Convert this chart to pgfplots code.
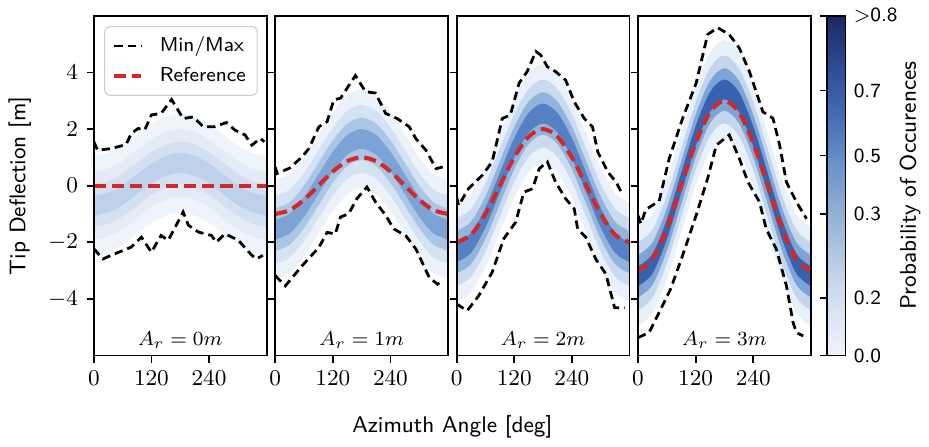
\documentclass[border=0pt]{standalone}
\usepackage{pgfplots}
\usepackage{pgfplotstable}
\pgfplotsset{compat=1.18}
\usepgfplotslibrary{groupplots,fillbetween}

\definecolor{refred}{RGB}{214,39,40}
% band colours (outer -> core), one set per panel
\definecolor{p1c1}{RGB}{239,244,251}\definecolor{p1c2}{RGB}{226,235,246}
\definecolor{p1c3}{RGB}{210,224,241}\definecolor{p1c4}{RGB}{190,209,234}
\definecolor{p2c1}{RGB}{236,242,250}\definecolor{p2c2}{RGB}{212,226,242}
\definecolor{p2c3}{RGB}{170,197,229}\definecolor{p2c4}{RGB}{125,163,213}
\definecolor{p3c1}{RGB}{234,241,250}\definecolor{p3c2}{RGB}{202,219,239}
\definecolor{p3c3}{RGB}{145,180,221}\definecolor{p3c4}{RGB}{85,128,196}
\definecolor{p4c1}{RGB}{232,240,250}\definecolor{p4c2}{RGB}{195,214,237}
\definecolor{p4c3}{RGB}{125,164,214}\definecolor{p4c4}{RGB}{55,98,175}

\pgfplotsset{
  colormap={occ}{rgb255(0)=(240,244,251) rgb255(0.2)=(205,217,237)
    rgb255(0.4)=(150,180,215) rgb255(0.55)=(110,150,200)
    rgb255(0.7)=(70,110,180) rgb255(0.85)=(45,75,150) rgb255(1)=(28,40,95)},
  mm/.style={black, line width=1.1pt, dash pattern=on 3.3pt off 2pt},
  rf/.style={refred, line width=1.6pt, dash pattern=on 4.8pt off 2.4pt},
}

% density bands: x, lower/upper edge for 4 nested bands
\pgfplotstableread{
x   a1    b1    a2    b2    a3    b3    a4    b4
0   -2.45 1.05  -1.90 0.50  -1.45 0.05  -1.05 -0.35
30  -2.35 1.15  -1.80 0.60  -1.35 0.15  -0.95 -0.25
60  -2.08 1.42  -1.53 0.87  -1.08 0.42  -0.68 0.02
90  -1.70 1.80  -1.15 1.25  -0.70 0.80  -0.30 0.40
120 -1.32 2.18  -0.77 1.63  -0.32 1.18  0.08  0.78
150 -1.05 2.45  -0.50 1.90  -0.05 1.45  0.35  1.05
180 -0.95 2.55  -0.40 2.00  0.05  1.55  0.45  1.15
210 -1.05 2.45  -0.50 1.90  -0.05 1.45  0.35  1.05
240 -1.32 2.18  -0.77 1.63  -0.32 1.18  0.08  0.78
270 -1.70 1.80  -1.15 1.25  -0.70 0.80  -0.30 0.40
300 -2.08 1.42  -1.53 0.87  -1.08 0.42  -0.68 0.02
330 -2.35 1.15  -1.80 0.60  -1.35 0.15  -0.95 -0.25
360 -2.45 1.05  -1.90 0.50  -1.45 0.05  -1.05 -0.35
}\bandA
\pgfplotstableread{
x   a1    b1    a2    b2    a3    b3    a4    b4
0   -3.30 0.20  -2.75 -0.35 -2.30 -0.80 -1.90 -1.20
30  -3.09 0.41  -2.54 -0.14 -2.09 -0.59 -1.69 -0.99
60  -2.50 1.00  -1.95 0.45  -1.50 0.00  -1.10 -0.40
90  -1.70 1.80  -1.15 1.25  -0.70 0.80  -0.30 0.40
120 -0.90 2.60  -0.35 2.05  0.10  1.60  0.50  1.20
150 -0.31 3.19  0.24  2.64  0.69  2.19  1.09  1.79
180 -0.10 3.40  0.45  2.85  0.90  2.40  1.30  2.00
210 -0.31 3.19  0.24  2.64  0.69  2.19  1.09  1.79
240 -0.90 2.60  -0.35 2.05  0.10  1.60  0.50  1.20
270 -1.70 1.80  -1.15 1.25  -0.70 0.80  -0.30 0.40
300 -2.50 1.00  -1.95 0.45  -1.50 0.00  -1.10 -0.40
330 -3.09 0.41  -2.54 -0.14 -2.09 -0.59 -1.69 -0.99
360 -3.30 0.20  -2.75 -0.35 -2.30 -0.80 -1.90 -1.20
}\bandB
\pgfplotstableread{
x   a1    b1    a2    b2    a3    b3    a4    b4
0   -4.10 -0.60 -3.55 -1.15 -3.10 -1.60 -2.70 -2.00
30  -3.77 -0.27 -3.22 -0.82 -2.77 -1.27 -2.37 -1.67
60  -2.88 0.62  -2.33 0.07  -1.88 -0.38 -1.48 -0.78
90  -1.65 1.85  -1.10 1.30  -0.65 0.85  -0.25 0.45
120 -0.42 3.08  0.13  2.53  0.58  2.08  0.98  1.68
150 0.47  3.97  1.02  3.42  1.47  2.97  1.87  2.57
180 0.80  4.30  1.35  3.75  1.80  3.30  2.20  2.90
210 0.47  3.97  1.02  3.42  1.47  2.97  1.87  2.57
240 -0.42 3.08  0.13  2.53  0.58  2.08  0.98  1.68
270 -1.65 1.85  -1.10 1.30  -0.65 0.85  -0.25 0.45
300 -2.88 0.62  -2.33 0.07  -1.88 -0.38 -1.48 -0.78
330 -3.77 -0.27 -3.22 -0.82 -2.77 -1.27 -2.37 -1.67
360 -4.10 -0.60 -3.55 -1.15 -3.10 -1.60 -2.70 -2.00
}\bandC
\pgfplotstableread{
x   a1    b1    a2    b2    a3    b3    a4    b4
0   -4.95 -1.45 -4.40 -2.00 -3.95 -2.45 -3.55 -2.85
30  -4.51 -1.01 -3.96 -1.56 -3.51 -2.01 -3.11 -2.41
60  -3.30 0.20  -2.75 -0.35 -2.30 -0.80 -1.90 -1.20
90  -1.65 1.85  -1.10 1.30  -0.65 0.85  -0.25 0.45
120 0.00  3.50  0.55  2.95  1.00  2.50  1.40  2.10
150 1.21  4.71  1.76  4.16  2.21  3.71  2.61  3.31
180 1.65  5.15  2.20  4.60  2.65  4.15  3.05  3.75
210 1.21  4.71  1.76  4.16  2.21  3.71  2.61  3.31
240 0.00  3.50  0.55  2.95  1.00  2.50  1.40  2.10
270 -1.65 1.85  -1.10 1.30  -0.65 0.85  -0.25 0.45
300 -3.30 0.20  -2.75 -0.35 -2.30 -0.80 -1.90 -1.20
330 -4.51 -1.01 -3.96 -1.56 -3.51 -2.01 -3.11 -2.41
360 -4.95 -1.45 -4.40 -2.00 -3.95 -2.45 -3.55 -2.85
}\bandD

% #1 table, #2 panel prefix (also colour prefix)
\newcommand{\bands}[2]{%
  \addplot[draw=none,smooth,forget plot,name path=#2a1] table[x=x,y=a1]{#1};
  \addplot[draw=none,smooth,forget plot,name path=#2b1] table[x=x,y=b1]{#1};
  \addplot[draw=none,smooth,forget plot,name path=#2a2] table[x=x,y=a2]{#1};
  \addplot[draw=none,smooth,forget plot,name path=#2b2] table[x=x,y=b2]{#1};
  \addplot[draw=none,smooth,forget plot,name path=#2a3] table[x=x,y=a3]{#1};
  \addplot[draw=none,smooth,forget plot,name path=#2b3] table[x=x,y=b3]{#1};
  \addplot[draw=none,smooth,forget plot,name path=#2a4] table[x=x,y=a4]{#1};
  \addplot[draw=none,smooth,forget plot,name path=#2b4] table[x=x,y=b4]{#1};
  \addplot[fill=#2c1,draw=none,forget plot] fill between[of=#2a1 and #2b1];
  \addplot[fill=#2c2,draw=none,forget plot] fill between[of=#2a2 and #2b2];
  \addplot[fill=#2c3,draw=none,forget plot] fill between[of=#2a3 and #2b3];
  \addplot[fill=#2c4,draw=none,forget plot] fill between[of=#2a4 and #2b4];
}

\begin{document}
\begin{tikzpicture}
\begin{groupplot}[
  group style={group size=4 by 1, horizontal sep=3.4pt,
    y descriptions at=edge left, group name=G},
  scale only axis, width=68.8pt, height=135.2pt,
  xmin=0, xmax=360, ymin=-6, ymax=6,
  xtick={0,120,240}, ytick={-4,-2,0,2,4},
  xtick pos=bottom, ytick pos=left, tick align=outside,
  major tick length=2.8pt,
  tick style={black, line width=0.7pt},
  axis line style={line width=0.7pt},
  ticklabel style={font=\small},
  axis on top,
]
\nextgroupplot[
  ylabel={\sffamily Tip Deflection [m]}, ylabel style={font=\small},
  legend style={at={(0.06,0.97)}, anchor=north west, draw=black!20,
    rounded corners=2pt, font=\sffamily\footnotesize, fill=white,
    inner xsep=3pt, inner ysep=2pt, row sep=0.8pt,
    nodes={inner xsep=1.5pt},
    /tikz/every odd column/.append style={column sep=5pt}},
  legend cell align=left,
  legend image code/.code={\draw[#1] (0cm,0cm) -- (0.38cm,0cm);},
]
\bands{\bandA}{p1}
\addplot[mm] coordinates {(0,1.55)(8,1.25)(36,1.31)(67,1.45)(78,1.84)(92,2.02)
  (106,1.97)(120,2.5)(140,2.55)(162,3.04)(186,2.37)(207,2.43)(228,2.08)(251,2.08)
  (276,2.23)(294,1.96)(315,1.79)(329,1.43)(347,1.67)(355,1.55)};
\addlegendentry{Min/Max}
\addplot[mm, forget plot] coordinates {(0,-2.23)(19,-2.59)(36,-2.46)(61,-2.29)
  (78,-2.17)(99,-1.82)(120,-2.35)(140,-1.76)(155,-1.93)(170,-1.45)(186,-0.93)
  (197,-1.4)(218,-1.64)(245,-1.76)(255,-2.0)(273,-1.70)(301,-1.93)(329,-2.46)
  (339,-2.59)(352,-2.46)};
\addplot[rf] coordinates {(0,0)(360,0)};
\addlegendentry{Reference}
\node[font=\footnotesize] at (axis cs:180,-5.45) {$A_r = 0m$};

\nextgroupplot
\bands{\bandB}{p2}
\addplot[mm] coordinates {(0,0.66)(4,0.43)(30,0.62)(56,1.02)(70,1.31)(91,2.08)
  (108,2.26)(122,3.03)(136,3.09)(167,3.89)(188,3.32)(209,3.27)(230,2.55)(254,2.37)
  (279,2.08)(293,1.66)(314,1.25)(335,0.60)(349,0.66)};
\addplot[mm] coordinates {(0,-3.18)(21,-3.54)(56,-2.83)(91,-2.18)(108,-1.65)
  (125,-1.71)(136,-1.11)(153,-0.99)(170,-0.46)(191,-0.05)(209,-0.58)(230,-1.05)
  (247,-1.53)(272,-1.77)(293,-2.24)(321,-3.25)(338,-3.48)(349,-3.36)};
\addplot[rf, smooth] coordinates {(0,-1)(30,-0.866)(60,-0.5)(90,0)(120,0.5)
  (150,0.866)(180,1)(210,0.866)(240,0.5)(270,0)(300,-0.5)(330,-0.866)(360,-1)};
\node[font=\footnotesize] at (axis cs:180,-5.45) {$A_r = 1m$};

\nextgroupplot
\bands{\bandC}{p3}
\addplot[mm] coordinates {(0,-0.4)(4,-0.7)(25,-0.1)(53,0.36)(74,0.84)(95,2.37)
  (112,2.5)(130,3.62)(147,4.03)(165,4.74)(175,4.62)(189,4.2)(206,4.03)(227,3.73)
  (245,2.96)(266,2.37)(283,2.08)(294,1.19)(315,0.48)(332,0.13)(343,-0.23)(350,-0.17)};
\addplot[mm] coordinates {(0,-4.18)(22,-4.42)(46,-3.89)(74,-3.06)(98,-1.88)
  (123,-1.29)(140,-0.23)(158,-0.11)(172,0.60)(189,0.84)(206,0.13)(227,-0.46)
  (245,-0.82)(252,-1.53)(269,-1.82)(290,-2.6)(311,-3.13)(329,-4.31)(350,-4.31)};
\addplot[rf, smooth] coordinates {(0,-2)(30,-1.732)(60,-1)(90,0)(120,1)
  (150,1.732)(180,2)(210,1.732)(240,1)(270,0)(300,-1)(330,-1.732)(360,-2)};
\node[font=\footnotesize] at (axis cs:180,-5.45) {$A_r = 2m$};

\nextgroupplot[
  colorbar, colormap name=occ, point meta min=0, point meta max=1,
  colorbar style={width=7.2pt, at={(parent axis.north east)}, anchor=north west,
    xshift=-2pt, ytick={0,0.17,0.417,0.589,0.78,1},
    yticklabels={0.0,0.2,0.3,0.5,0.7,>0.8},
    yticklabel style={font=\sffamily\footnotesize, xshift=-3pt},
    ylabel={\sffamily Probability of Occurences}, ylabel style={font=\small},
    ylabel shift=-6pt,
    tick align=outside, major tick length=2.8pt,
    tick style={black, line width=0.7pt}, axis line style={line width=0.7pt}},
]
\bands{\bandD}{p4}
\addplot[mm] coordinates {(0,-1.05)(6,-1.35)(16,-0.85)(34,-0.65)(44,-0.55)
  (65,0.96)(93,2.38)(121,3.62)(145,5.34)(166,5.58)(190,5.34)(211,4.86)(232,4.03)
  (260,2.61)(281,2.38)(295,1.43)(309,0.13)(330,-0.58)(351,-1.17)};
\addplot[mm] coordinates {(0,-5.37)(23,-5.19)(44,-4.48)(68,-3.65)(93,-2.46)
  (121,-1.05)(145,0.25)(163,1.43)(190,1.79)(211,0.96)(229,0.13)(253,-0.58)
  (267,-1.53)(288,-2.24)(309,-3.53)(323,-4.84)(330,-5.19)(344,-5.31)};
\addplot[rf, smooth] coordinates {(0,-3)(30,-2.598)(60,-1.5)(90,0)(120,1.5)
  (150,2.598)(180,3)(210,2.598)(240,1.5)(270,0)(300,-1.5)(330,-2.598)(360,-3)};
\node[font=\footnotesize] at (axis cs:180,-5.45) {$A_r = 3m$};
\end{groupplot}
\node[font=\sffamily\small] at ([xshift=1.7pt,yshift=-28.4pt]G c2r1.south east)
  {Azimuth Angle [deg]};
\end{tikzpicture}
\end{document}
